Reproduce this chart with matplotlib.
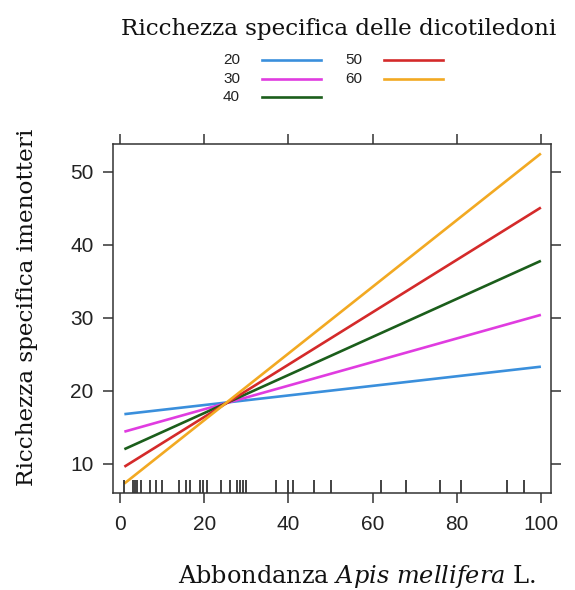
import matplotlib
matplotlib.use("Agg")
import matplotlib.pyplot as plt
import matplotlib.transforms as mtransforms

# effect lines for each level of dicot richness (values at x = 1 and x = 100)
levels = ["20", "30", "40", "50", "60"]
x_ends = [1, 100]
y_start = [16.8, 14.4, 12.0, 9.6, 7.3]
y_end = [23.3, 30.4, 37.8, 45.1, 52.5]
colors = ["#3a8fdc", "#e03ce0", "#1b5e1b", "#d42a2a", "#f2a922"]

# observed Apis mellifera abundances (rug)
rug_x = [1, 3, 3.6, 4, 5, 7, 8.5, 10, 14, 15.7, 16.6, 19, 19.8, 20.7, 24, 26,
         27.8, 28.6, 29.3, 30, 37, 40, 41, 46, 50, 62, 68, 76, 81, 92, 96]

x_ticks = [0, 20, 40, 60, 80, 100]
y_ticks = [10, 20, 30, 40, 50]

plt.rcParams["mathtext.fontset"] = "custom"
plt.rcParams["mathtext.it"] = "DejaVu Serif:italic"
plt.rcParams["mathtext.rm"] = "DejaVu Serif"

W, H = 575, 590
fig = plt.figure(figsize=(W / 100, H / 100), dpi=100)
ax = fig.add_axes([113 / W, 1 - 493 / H, (551 - 113) / W, (493 - 144) / H])

for lev, y0, y1, c in zip(levels, y_start, y_end, colors):
    ax.plot(x_ends, [y0, y1], color=c, lw=1.9, solid_capstyle="butt")

trans = mtransforms.blended_transform_factory(ax.transData, ax.transAxes)
ax.vlines(rug_x, 0, 0.038, transform=trans, color="#222222", lw=1.2)

ax.set_xlim(-1.7, 102.4)
ax.set_ylim(6.0, 53.8)
ax.set_xticks(x_ticks)
ax.set_yticks(y_ticks)
ax.tick_params(axis="both", direction="out", length=7, width=1.1, color="#333333",
               top=True, right=True, labelsize=15, labelcolor="#222222")
ax.tick_params(axis="x", pad=9)
ax.tick_params(axis="y", pad=7)
for lab in ax.get_xticklabels() + ax.get_yticklabels():
    lab.set_family("Liberation Sans")
for sp in ax.spines.values():
    sp.set_color("#333333")
    sp.set_linewidth(1.1)

# titles and axis labels
fig.text(339 / W, 1 - 29 / H, "Ricchezza specifica delle dicotiledoni",
         ha="center", va="center", family="DejaVu Serif", fontsize=16.6, color="#111111")
fig.text(27 / W, 1 - 307 / H, "Ricchezza specifica imenotteri", rotation=90,
         ha="center", va="center", family="DejaVu Serif", fontsize=16.7, color="#111111")
fig.text(357 / W, 1 - 577 / H, r"Abbondanza $\mathit{Apis\ mellifera}$ L.",
         ha="center", va="center", family="DejaVu Serif", fontsize=17.3, color="#111111")

# legend drawn as a small key grid
key_pos = [(240, 60), (240, 79), (240, 97), (362, 60), (362, 79)]
for lev, c, (tx, ty) in zip(levels, colors, key_pos):
    fig.text(tx / W, 1 - ty / H, lev, ha="right", va="center",
             family="Liberation Sans", fontsize=11, color="#222222")
    fig.add_artist(plt.Line2D([(tx + 22) / W, (tx + 81) / W], [1 - ty / H, 1 - ty / H],
                              color=c, lw=1.9, transform=fig.transFigure))

fig.savefig("out.png", dpi=100)
